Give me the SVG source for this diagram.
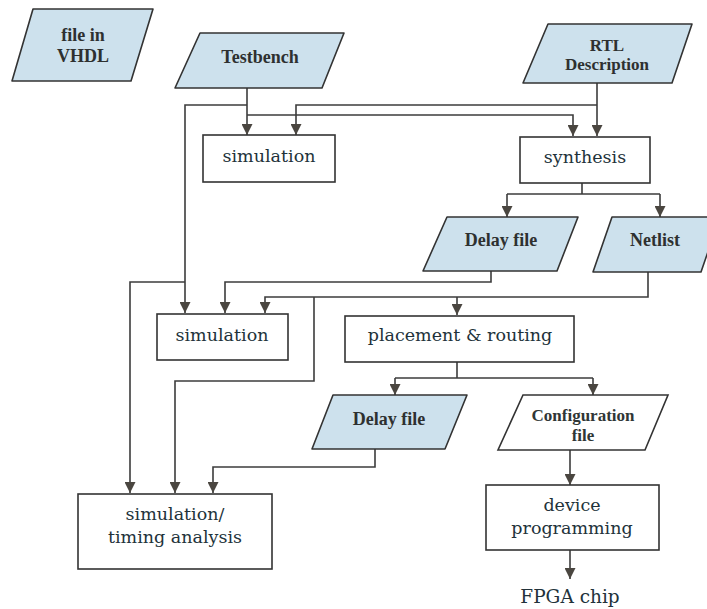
<svg xmlns="http://www.w3.org/2000/svg" width="707" height="609" viewBox="0 0 707 609">
  <style>
    .data { fill: #cde1ed; stroke: #333; stroke-width: 1.6; stroke-linejoin: round; }
    .plain { fill: #ffffff; stroke: #333; stroke-width: 1.6; }
    .proc { fill: #ffffff; stroke: #333; stroke-width: 1.6; }
    .wire { fill: none; stroke: #3c3c3c; stroke-width: 1.6; }
    .lbl { font-family: "Liberation Serif", "Times New Roman", serif; font-weight: bold; font-size: 18px; fill: #2e3030; text-anchor: middle; }
    .lbl2 { font-family: "Liberation Serif", "Times New Roman", serif; font-weight: bold; font-size: 17px; fill: #303636; text-anchor: middle; }
    .txt { font-family: "DejaVu Serif", "Liberation Serif", serif; font-size: 17.5px; fill: #22323a; text-anchor: middle; }
  </style>
  <defs>
    <marker id="arrow" viewBox="0 0 10 10" refX="10" refY="5" markerWidth="11" markerHeight="11" markerUnits="userSpaceOnUse" orient="auto">
      <path d="M0,0 L10,5 L0,10 z" fill="#4a4640"/>
    </marker>
  </defs>

  <rect width="707" height="609" fill="#ffffff"/>

  <!-- connectors -->
  <g id="connectors">
    <!-- Testbench -->
    <path class="wire" d="M247,88 V135" marker-end="url(#arrow)"/>
    <path class="wire" d="M247,105 H185 V313" marker-end="url(#arrow)"/>
    <path class="wire" d="M185,282 H130 V493" marker-end="url(#arrow)"/>
    <path class="wire" d="M247,115 H573 V136" marker-end="url(#arrow)"/>
    <!-- RTL description -->
    <path class="wire" d="M597,83 V136" marker-end="url(#arrow)"/>
    <path class="wire" d="M597,105 H296 V135" marker-end="url(#arrow)"/>
    <!-- synthesis outputs -->
    <path class="wire" d="M582,183 V194 M507,194 H660"/>
    <path class="wire" d="M507,194 V217" marker-end="url(#arrow)"/>
    <path class="wire" d="M660,194 V217" marker-end="url(#arrow)"/>
    <!-- delay file after synthesis -->
    <path class="wire" d="M491,271 V282 H225 V313" marker-end="url(#arrow)"/>
    <!-- netlist -->
    <path class="wire" d="M648,272 V297 H265 V313" marker-end="url(#arrow)"/>
    <path class="wire" d="M457,297 V315" marker-end="url(#arrow)"/>
    <path class="wire" d="M314,297 V381 H175 V493" marker-end="url(#arrow)"/>
    <!-- placement & routing outputs -->
    <path class="wire" d="M457,362 V378 M395,378 H593"/>
    <path class="wire" d="M395,378 V395" marker-end="url(#arrow)"/>
    <path class="wire" d="M593,378 V395" marker-end="url(#arrow)"/>
    <!-- delay file after routing -->
    <path class="wire" d="M375,449 V467 H213 V493" marker-end="url(#arrow)"/>
    <!-- configuration / programming -->
    <path class="wire" d="M570,450 V485" marker-end="url(#arrow)"/>
    <path class="wire" d="M570,550 V579" marker-end="url(#arrow)"/>
  </g>

  <g id="vhdl-file">
    <polygon class="data" points="33,9 153,9 131,81 12,81"/>
    <text class="lbl" x="83" y="41">file in</text>
    <text class="lbl" x="83" y="62">VHDL</text>
  </g>

  <g id="testbench">
    <polygon class="data" points="200,33 344,33 322,88 175,88"/>
    <text class="lbl" x="260" y="63">Testbench</text>
  </g>

  <g id="rtl">
    <polygon class="data" points="548,24 692,24 672,83 523,83"/>
    <text class="lbl" x="607" y="51" style="font-size:17px">RTL</text>
    <text class="lbl" x="607" y="70" style="font-size:17px">Description</text>
  </g>

  <g id="simulation-1">
    <rect class="proc" x="203" y="135" width="132" height="47"/>
    <text class="txt" x="269" y="162">simulation</text>
  </g>

  <g id="synthesis">
    <rect class="proc" x="520" y="137" width="130" height="46"/>
    <text class="txt" x="585" y="163">synthesis</text>
  </g>

  <g id="delay-file-1">
    <polygon class="data" points="447,217 578,217 557,271 423,271"/>
    <text class="lbl" x="501" y="246">Delay file</text>
  </g>

  <g id="netlist">
    <polygon class="data" points="612,217 720,217 701,272 593,272"/>
    <text class="lbl" x="655" y="246">Netlist</text>
  </g>

  <g id="simulation-2">
    <rect class="proc" x="157" y="314" width="131" height="46"/>
    <text class="txt" x="222" y="341">simulation</text>
  </g>

  <g id="placement-routing">
    <rect class="proc" x="345" y="316" width="229" height="46"/>
    <text class="txt" x="460" y="341">placement &amp; routing</text>
  </g>

  <g id="delay-file-2">
    <polygon class="data" points="333,395 467,395 445,449 312,449"/>
    <text class="lbl" x="389" y="425">Delay file</text>
  </g>

  <g id="configuration-file">
    <polygon class="plain" points="523,395 668,395 645,450 498,450"/>
    <text class="lbl2" x="583" y="421">Configuration</text>
    <text class="lbl2" x="583" y="441">file</text>
  </g>

  <g id="device-programming">
    <rect class="proc" x="486" y="485" width="173" height="65"/>
    <text class="txt" x="572" y="511">device</text>
    <text class="txt" x="572" y="534">programming</text>
  </g>

  <g id="timing-analysis">
    <rect class="proc" x="78" y="494" width="194" height="75"/>
    <text class="txt" x="175" y="520">simulation/</text>
    <text class="txt" x="175" y="543">timing analysis</text>
  </g>

  <g id="fpga-chip">
    <text class="txt" x="570" y="603" style="font-size:18.5px">FPGA chip</text>
  </g>
</svg>
